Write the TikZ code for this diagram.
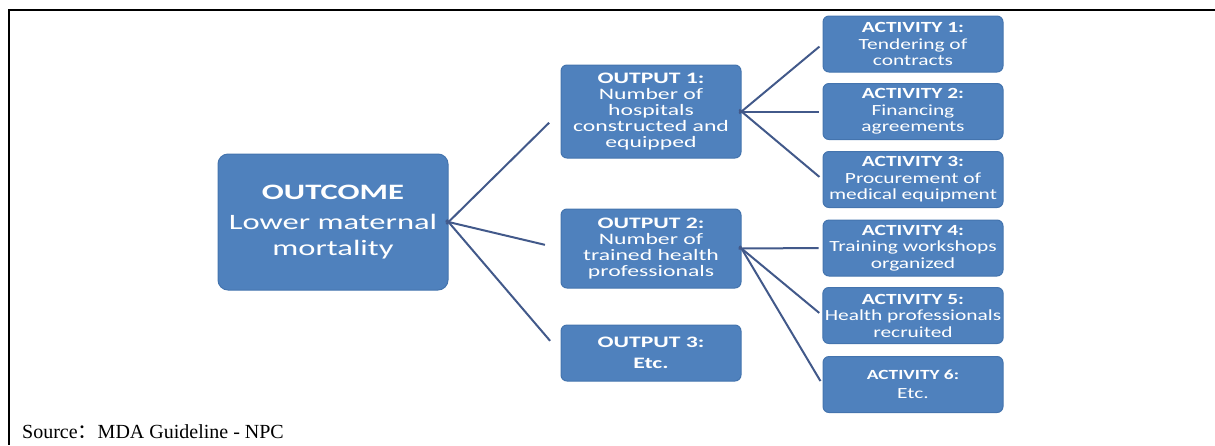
\documentclass[tikz,border=0pt]{standalone}
\usepackage{fontspec}
\setmainfont{Liberation Serif}
\newfontfamily\boxfont[FakeStretch=1.48]{Carlito}
\newfontfamily\actfont[FakeStretch=1.38]{Carlito}
\newfontfamily\cjk{Noto Sans CJK SC}
\usepackage{xcolor}
\usepackage{tikz}
\usetikzlibrary{positioning}
\definecolor{boxB}{HTML}{4F81BD}
\definecolor{boxEdge}{HTML}{4474AE}
\definecolor{linkB}{HTML}{42598A}

\begin{document}
\begin{tikzpicture}[x=1pt, y=-1pt,
    box/.style={draw=boxEdge, fill=boxB, rounded corners=6pt, line width=1pt,
                text=white, align=center, inner sep=2pt, minimum width=180},
    link/.style={draw=linkB, line width=2pt}]
  \useasboundingbox (0,0) rectangle (1215,445);
  % frame rules (top and left only)
  \draw[line width=2.4pt] (1215,10) -- (9,10) -- (9,445);
  % outcome
  \node[box, minimum width=230, minimum height=136, rounded corners=10pt,
        font=\boxfont\fontsize{22}{26}\selectfont] (outcome) at (333,222)
        {{\bfseries OUTCOME}\\[4pt]Lower maternal\\mortality};
  % outputs: y, height, text
  \foreach \y/\h/\txt [count=\n] in {%
    111.5/93/{{\bfseries OUTPUT 1:}\\Number of\\hospitals\\constructed and\\equipped},%
    248.5/79/{{\bfseries OUTPUT 2:}\\Number of\\trained health\\professionals},%
    353/56/{{\bfseries OUTPUT 3:}\\[5pt]{\bfseries Etc.}}}{%
      \node[box, minimum height=\h, font=\boxfont\fontsize{16}{16}\selectfont]
           (out\n) at (651,\y) {\txt};
  }
  % activities: y, text
  \foreach \y/\txt [count=\n] in {%
    44/{{\bfseries ACTIVITY 1:}\\Tendering of\\contracts},%
    111.5/{{\bfseries ACTIVITY 2:}\\Financing\\agreements},%
    179.5/{{\bfseries ACTIVITY 3:}\\Procurement of\\medical equipment},%
    248/{{\bfseries ACTIVITY 4:}\\Training workshops\\organized},%
    315.5/{{\bfseries ACTIVITY 5:}\\Health professionals\\recruited},%
    384.5/{{\bfseries\fontsize{14}{16}\selectfont ACTIVITY 6:}\\[3pt]Etc.}}{%
      \node[box, minimum height=56, font=\actfont\fontsize{15.5}{16.5}\selectfont]
           (act\n) at (913,\y) {\txt};
  }
  % fan-out links
  \foreach \n in {1,2,3}
    \draw[link, shorten >=16pt, shorten <=-3pt] (outcome.east) -- (out\n.west);
  \foreach \n in {1,2,3}
    \draw[link, shorten >=4pt, shorten <=-3pt] (out1.east) -- (act\n.west);
  \foreach \n in {4,5,6}
    \draw[link, shorten >=4pt, shorten <=-3pt] (out2.east) -- (act\n.west);
  % source line
  \node[anchor=base west, inner sep=0pt, font=\fontsize{20}{24}\selectfont]
       (src) at (22,438) {Source{\cjk ：}MDA Guideline - NPC};
\end{tikzpicture}
\end{document}
